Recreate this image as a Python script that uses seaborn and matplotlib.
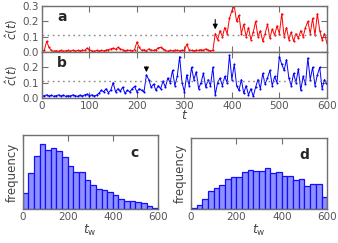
import numpy as np
import pandas as pd
import matplotlib
matplotlib.use("Agg")
import matplotlib.pyplot as plt
import seaborn as sns

# ---- data (one value every 5 time steps) ----
t = np.arange(0, 601, 5)

c_a = [0.005, 0.01, 0.07, 0.03, 0.01, 0.005, 0.008, 0.005, 0.01, 0.005,
       0.008, 0.01, 0.005, 0.012, 0.006, 0.01, 0.008, 0.012, 0.01, 0.025,
       0.015, 0.008, 0.005, 0.01, 0.006, 0.01, 0.008, 0.012, 0.015, 0.02,
       0.025, 0.018, 0.03, 0.02, 0.015, 0.008, 0.012, 0.01, 0.008, 0.015,
       0.065, 0.03, 0.01, 0.015, 0.008, 0.02, 0.012, 0.01, 0.015, 0.028,
       0.03, 0.02, 0.01, 0.005, 0.01, 0.008, 0.012, 0.01, 0.008, 0.012,
       0.01, 0.05, 0.015, 0.01, 0.008, 0.012, 0.01, 0.015, 0.01, 0.02,
       0.012, 0.008, 0.01, 0.12, 0.08, 0.14, 0.10, 0.16, 0.12, 0.22,
       0.27, 0.30, 0.20, 0.24, 0.12, 0.18, 0.10, 0.16, 0.08, 0.13,
       0.20, 0.10, 0.14, 0.07, 0.12, 0.18, 0.09, 0.15, 0.11, 0.17,
       0.12, 0.25, 0.10, 0.16, 0.08, 0.13, 0.07, 0.12, 0.09, 0.14,
       0.10, 0.16, 0.20, 0.12, 0.22, 0.11, 0.25, 0.14, 0.08, 0.12,
       0.06]

c_b = [0.01, 0.015, 0.02, 0.012, 0.018, 0.01, 0.015, 0.02, 0.012, 0.018,
       0.01, 0.015, 0.012, 0.02, 0.015, 0.01, 0.018, 0.012, 0.02, 0.025,
       0.015, 0.02, 0.012, 0.018, 0.03, 0.05, 0.04, 0.06, 0.035, 0.05,
       0.10, 0.04, 0.06, 0.045, 0.07, 0.03, 0.05, 0.04, 0.06, 0.075,
       0.04, 0.06, 0.05, 0.04, 0.15, 0.12, 0.07, 0.09, 0.05, 0.08,
       0.06, 0.11, 0.07, 0.13, 0.10, 0.18, 0.08, 0.14, 0.27, 0.10,
       0.04, 0.15, 0.08, 0.20, 0.12, 0.17, 0.06, 0.10, 0.16, 0.07,
       0.12, 0.08, 0.20, 0.02, 0.10, 0.13, 0.08, 0.14, 0.10, 0.28,
       0.12, 0.22, 0.08, 0.05, 0.12, 0.03, 0.08, 0.02, 0.06, 0.01,
       0.07, 0.12, 0.06, 0.16, 0.09, 0.13, 0.18, 0.08, 0.14, 0.10,
       0.27, 0.22, 0.18, 0.25, 0.13, 0.08, 0.16, 0.10, 0.19, 0.05,
       0.14, 0.09, 0.26, 0.12, 0.20, 0.08, 0.15, 0.20, 0.06, 0.12,
       0.09]

threshold = 0.11
arrow_a = (365, 0.23, 0.13)   # t, tail, head
arrow_b = (220, 0.22, 0.15)

# histograms of waiting times t_w, bin width 25 over 0..600
bin_width = 25
freq_c = [48, 110, 160, 195, 178, 183, 175, 158, 131, 113, 111, 88,
          73, 60, 56, 50, 43, 31, 25, 25, 21, 18, 10, 3]
freq_d = [3, 13, 31, 55, 63, 73, 90, 96, 95, 111, 115, 113,
          113, 123, 108, 111, 100, 100, 87, 89, 70, 75, 76, 35]

# ---- style ----
sns.set_style("ticks")
plt.rcParams["font.family"] = ["DejaVu Sans"]
grey = "#707070"
plt.rcParams.update({
    "axes.edgecolor": grey,
    "axes.linewidth": 1.0,
    "xtick.color": grey,
    "ytick.color": grey,
    "xtick.labelcolor": "#555555",
    "ytick.labelcolor": "#555555",
    "xtick.direction": "in",
    "ytick.direction": "in",
    "xtick.major.size": 4,
    "ytick.major.size": 4,
    "xtick.labelsize": 7.5,
    "ytick.labelsize": 7.5,
    "axes.labelcolor": "#444444",
})

fig = plt.figure(figsize=(3.38, 2.43), dpi=100)
ax_a = fig.add_axes([0.124, 0.786, 0.843, 0.189])
ax_b = fig.add_axes([0.124, 0.597, 0.843, 0.189])
ax_c = fig.add_axes([0.067, 0.140, 0.400, 0.305])
ax_d = fig.add_axes([0.565, 0.140, 0.403, 0.292])

df = pd.DataFrame({"t": t, "a": c_a, "b": c_b})

# ---- time series panels ----
for ax, col, color, arr, lab in [(ax_a, "a", "red", arrow_a, "a"),
                                 (ax_b, "b", "blue", arrow_b, "b")]:
    sns.lineplot(data=df, x="t", y=col, ax=ax, color=color, lw=0.7,
                 marker="o", markersize=1.5, markeredgewidth=0)
    ax.axhline(threshold, color="#888888", ls=(0, (1.2, 2.5)), lw=1.0)
    ax.annotate("", xy=(arr[0], arr[2]), xytext=(arr[0], arr[1]),
                arrowprops=dict(arrowstyle="-|>", color="black", lw=0.8,
                                mutation_scale=7))
    ax.set_xlim(0, 600)
    ax.set_ylim(0, 0.3)
    ax.set_xticks(range(0, 601, 100))
    ax.set_ylabel(r"$\hat{c}(t)$", fontsize=8.5, labelpad=2)
    ax.tick_params(top=True, right=True, pad=2)
    ax.text(0.07, 0.76, lab, transform=ax.transAxes, fontsize=10,
            fontweight="bold", va="center", ha="center")

ax_a.set_yticks([0, 0.1, 0.2, 0.3])
ax_a.set_yticklabels(["0.0", "0.1", "0.2", "0.3"])
ax_a.tick_params(labelbottom=False)
ax_a.set_xlabel("")
ax_b.set_yticks([0, 0.1, 0.2, 0.3])
ax_b.set_yticklabels(["0.0", "0.1", "0.2", ""])
ax_b.set_xlabel(r"$t$", fontsize=9, labelpad=-1)

# ---- histogram panels ----
n_bins = len(freq_c)
centers = bin_width * (np.arange(n_bins) + 0.5)
for ax, freq, lab, top in [(ax_c, freq_c, "c", 224), (ax_d, freq_d, "d", 212)]:
    hd = pd.DataFrame({"tw": centers, "n": freq})
    sns.histplot(data=hd, x="tw", weights="n", binwidth=bin_width,
                 binrange=(0, bin_width * n_bins), ax=ax,
                 color="#8f8fff", alpha=1.0, edgecolor="#1010ff", linewidth=0.9)
    ax.set_xlim(0, 600)
    ax.set_ylim(0, top)
    ax.set_xticks([0, 200, 400, 600])
    ax.set_yticks([])
    ax.tick_params(top=True, pad=2)
    ax.set_ylabel("frequency", fontsize=8.5, labelpad=3)
    ax.set_xlabel(r"$t_\mathrm{w}$", fontsize=9, labelpad=1)
    ax.text(0.83, 0.76, lab, transform=ax.transAxes, fontsize=10,
            fontweight="bold", va="center", ha="center")

fig.savefig("out.png", dpi=100)
